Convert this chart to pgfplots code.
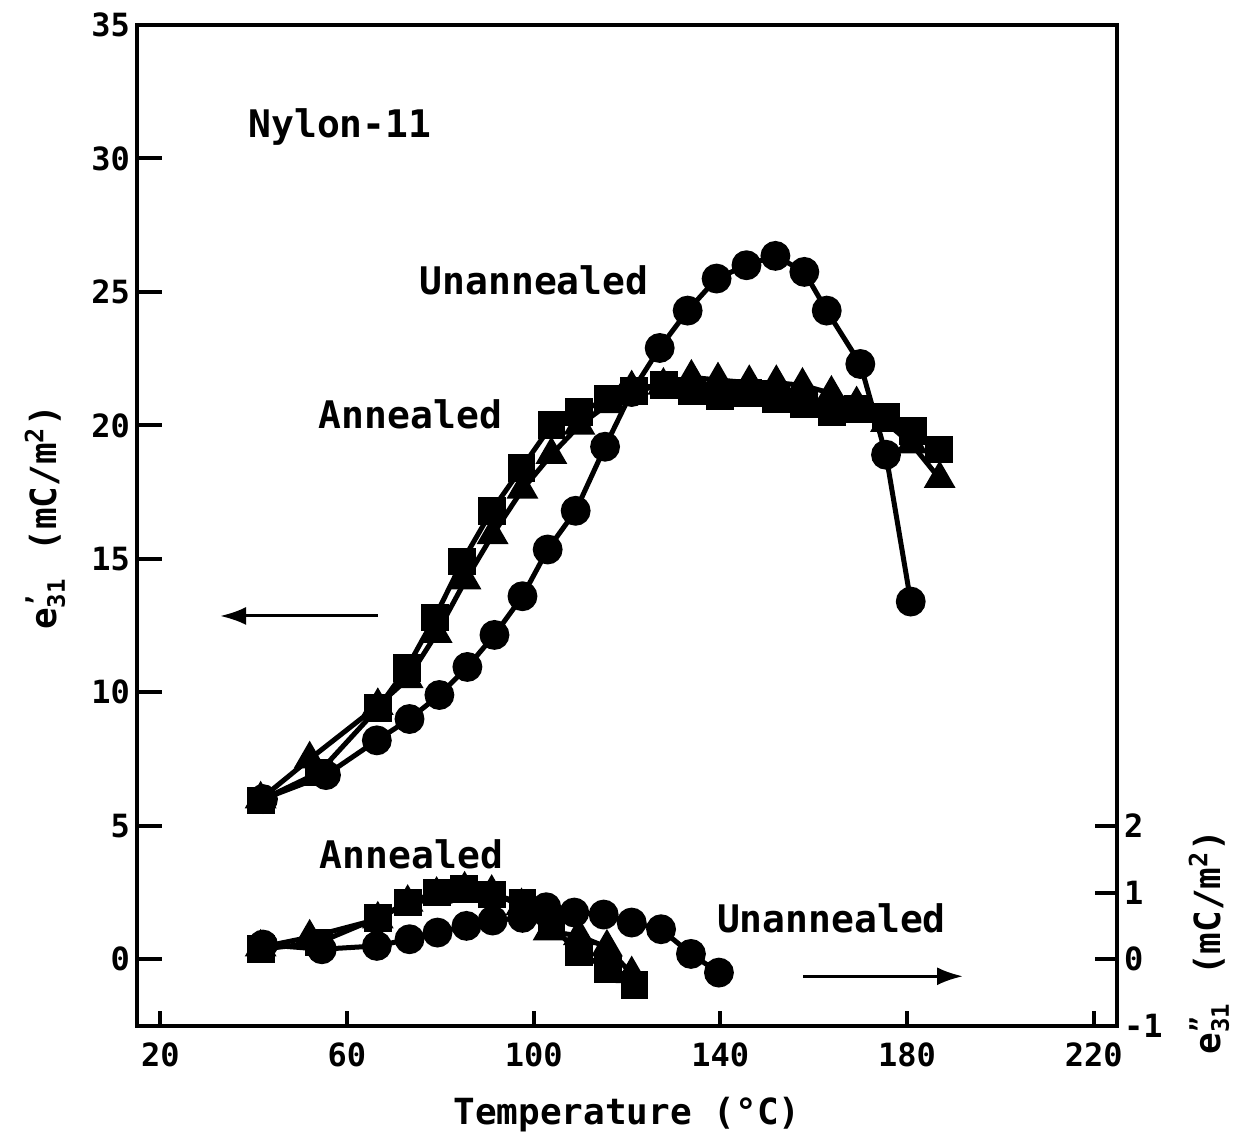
\documentclass[border=0pt]{standalone}
\usepackage{fontspec}
\setmainfont{DejaVu Sans Mono}
\usepackage{pgfplots}
\usepackage{pgfplotstable}
\pgfplotsset{compat=1.18}
\usetikzlibrary{arrows.meta}

% e'_31 (left scale, mC/m^2)
\pgfplotstableread{
T v
42.0 6.0
55.5 6.9
66.4 8.2
73.4 9.0
79.8 9.9
85.8 10.95
91.6 12.15
97.6 13.6
103.0 15.35
109.0 16.8
115.3 19.2
121.0 21.25
127.0 22.9
133.0 24.3
139.2 25.5
145.6 26.0
151.8 26.35
158.0 25.75
162.8 24.3
170.0 22.3
175.5 18.9
180.8 13.4
}\realUnann
\pgfplotstableread{
T v
41.5 5.95
54.0 7.0
66.6 9.4
72.8 10.9
78.8 12.8
84.7 14.9
91.0 16.8
97.4 18.4
103.8 20.0
109.7 20.5
116.0 21.0
121.5 21.3
128.0 21.5
134.0 21.3
140.0 21.1
146.0 21.2
152.0 21.0
158.0 20.8
164.0 20.5
169.5 20.6
175.5 20.3
181.2 19.8
186.8 19.1
}\realAnnSq
\pgfplotstableread{
T v
41.5 6.0
52.0 7.5
66.6 9.5
73.0 10.5
79.2 12.2
85.4 14.2
91.2 15.9
97.6 17.6
103.8 18.9
109.8 20.0
116.0 20.8
121.0 21.4
127.8 21.5
133.8 21.8
139.5 21.7
146.2 21.6
152.0 21.6
157.6 21.5
163.8 21.2
169.2 20.8
175.5 20.1
181.0 19.3
187.0 18.0
}\realAnnTr

% e''_31 (right scale, mC/m^2)
\pgfplotstableread{
T v
42.0 0.22
54.6 0.15
66.4 0.2
73.4 0.3
79.4 0.4
85.6 0.5
91.2 0.58
97.6 0.62
102.7 0.78
108.7 0.7
115.0 0.67
121.0 0.55
127.3 0.45
133.7 0.08
139.7 -0.2
}\imagUnann
\pgfplotstableread{
T v
41.5 0.15
54.0 0.25
66.6 0.62
73.0 0.85
79.2 1.0
85.0 1.05
91.0 0.97
97.6 0.85
103.8 0.5
109.7 0.1
116.0 -0.15
121.6 -0.38
}\imagAnnSq
\pgfplotstableread{
T v
41.5 0.18
52.0 0.33
66.6 0.6
73.0 0.85
79.2 0.97
85.2 1.05
91.0 1.0
97.4 0.8
103.2 0.42
109.7 0.35
115.7 0.18
121.0 -0.22
}\imagAnnTr

\pgfplotsset{
  frame/.style={
    width=490pt, height=500.5pt, scale only axis,
    xmin=15, xmax=225, clip=false,
    tick align=inside,
    axis line style={line width=2pt},
    every tick/.style={black, line width=2pt},
    tick label style={font=\fontsize{16}{16}\selectfont\bfseries},
    label style={font=\fontsize{18}{18}\selectfont\bfseries},
  },
  curve/.style={black, line width=2.5pt, mark options={solid, fill=black}},
}
\newcommand{\annot}{\fontsize{19}{19}\selectfont\bfseries}
\newcommand{\axlab}{\fontsize{18}{18}\selectfont\bfseries}

\begin{document}
\begin{tikzpicture}
% left scale: e'_31
\begin{axis}[frame, name=main,
  ymin=-2.5, ymax=35,
  ytick={0,5,...,35}, yticklabels={0,5,10,15,20,25,30,35},
  ytick pos=left, xtick=\empty,
  major tick length=12.5pt,
]
\addplot[curve, mark=*, mark size=6.2pt] table[x=T,y=v] {\realUnann};
\addplot[curve, mark=square*, mark size=5.7pt] table[x=T,y=v] {\realAnnSq};
\addplot[curve, mark=triangle*, mark size=6.7pt] table[x=T,y=v] {\realAnnTr};
\node[anchor=base, font=\annot] at (axis cs:58.5,30.8) {Nylon-11};
\node[anchor=base, font=\annot] at (axis cs:100.1,24.9) {Unannealed};
\node[anchor=base, font=\annot] at (axis cs:73.6,19.87) {Annealed};
\node[anchor=base, font=\annot] at (axis cs:73.8,3.41) {Annealed};
\node[anchor=base, font=\annot] at (axis cs:163.8,1.01) {Unannealed};
\draw[line width=1.5pt, -{Latex[length=13pt,width=9pt]}] (axis cs:66.6,12.86) -- (axis cs:32.8,12.86);
\node[rotate=90, anchor=center, font=\axlab] at ([xshift=-46pt]rel axis cs:0,0.508)
  {e\rlap{\raisebox{0.55ex}{\fontsize{13}{13}\selectfont '}}\raisebox{-0.45ex}{\fontsize{12}{12}\selectfont 31} \,(mC/m\textsuperscript{2})};
\end{axis}
% temperature axis
\begin{axis}[frame,
  ymin=-2.5, ymax=35, ytick=\empty,
  xtick={20,60,...,220}, xticklabels={20,60,100,140,180,220},
  xtick pos=bottom,
  major tick length=7.5pt,
  xticklabel style={yshift=-5pt},
  xlabel={Temperature (°C)},
  xlabel style={yshift=-8pt},
]
\end{axis}
% right scale: e''_31
\begin{axis}[frame,
  ymin=-1, ymax=14,
  ytick={-1,0,1,2}, yticklabels={-1,0,1,2},
  ytick pos=right, yticklabel pos=right,
  xtick=\empty,
  major tick length=11pt,
]
\addplot[curve, mark=*, mark size=6.2pt] table[x=T,y=v] {\imagUnann};
\addplot[curve, mark=square*, mark size=5.7pt] table[x=T,y=v] {\imagAnnSq};
\addplot[curve, mark=triangle*, mark size=6.7pt] table[x=T,y=v] {\imagAnnTr};
\draw[line width=1.5pt, -{Latex[length=13pt,width=9pt]}] (axis cs:157.8,-0.255) -- (axis cs:192,-0.255);
\node[rotate=90, anchor=center, font=\axlab] at ([xshift=46pt]rel axis cs:1,0.084)
  {e\rlap{\raisebox{0.55ex}{\fontsize{13}{13}\selectfont ''}}\raisebox{-0.45ex}{\fontsize{12}{12}\selectfont 31} \,(mC/m\textsuperscript{2})};
\end{axis}
\path ([shift={(-68.5pt,-59pt)}]main.south west) rectangle ([shift={(60pt,12.5pt)}]main.north east);
\end{tikzpicture}
\end{document}
